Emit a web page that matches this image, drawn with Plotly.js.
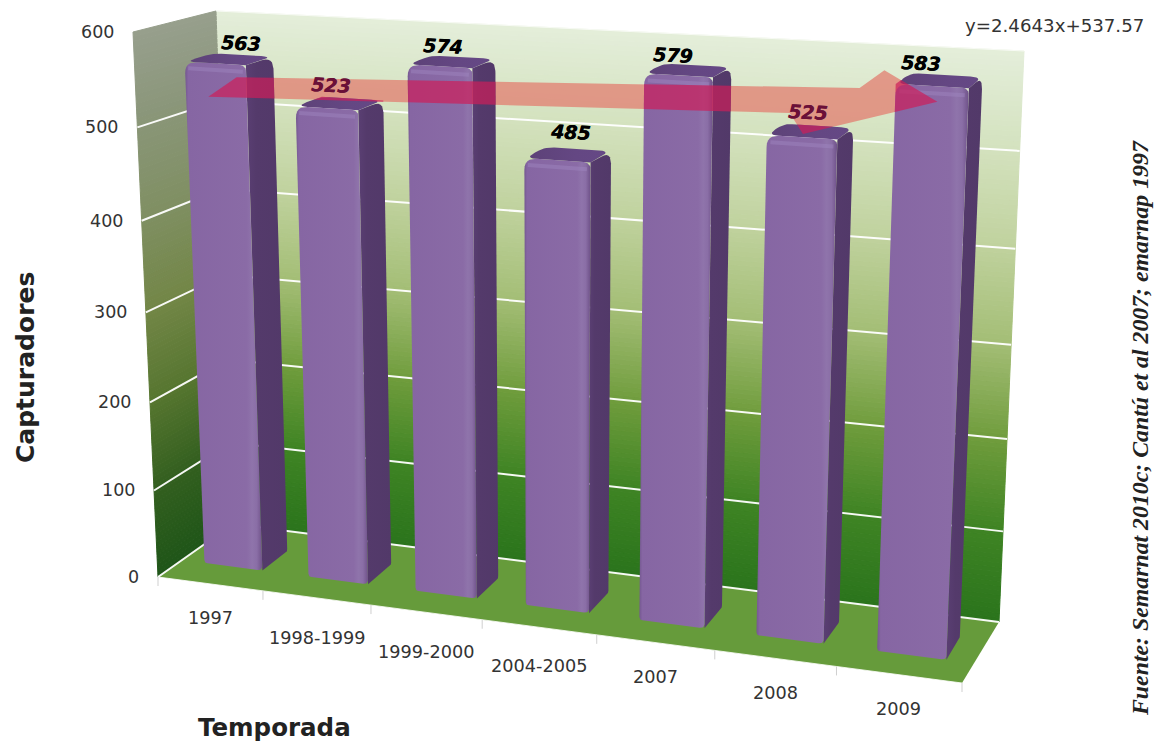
<!DOCTYPE html>
<html><head><meta charset="utf-8">
<script src="https://cdn.plot.ly/plotly-3.0.1.min.js"></script>
<style>html,body{margin:0;padding:0;background:#fff}#chart{width:1158px;height:744px}</style>
</head><body><div id="chart"></div>
<script>
// ---- data ----
const categories = ['1997','1998-1999','1999-2000','2004-2005','2007','2008','2009'];
const capturadores = [563,523,574,485,579,525,583];
const yTicks = [0,100,200,300,400,500,600];
const trendLabel = 'y=2.4643x+537.57';
// trend arrow outline: slot position along the category axis, value on the value axis
const arrowSlot  = [0.29,0.56,5.88,6.07,6.49,5.44,5.33];
const arrowValue = [521,544,571,590,562,522,542];
// small label nudges in pixels
const valueLabelDx = [1,-15,-10,6,-8,10,-1];
const valueLabelDy = [0,-2,1,-5,2,-2,0];
const categoryLabelDy = [0,6,6,5,0,1,0];

// ---- perspective box: pixel corners of the chart's 3D box ----
const VMAX = 600, SLOTS = categories.length;
const box = {fb:[[158,577],[962,683]], ft:[[133,32],[987,82]], bb:[[233,524],[999,622]], bt:[[216,11],[1024,51]]};
const warp = (t,c) => t/(1+c*(1-t));
const mix = (a,b,t) => [a[0]+(b[0]-a[0])*t, a[1]+(b[1]-a[1])*t];
function P(slot,value,depth){
  const u = warp(slot/SLOTS,0.11), v = warp(value/VMAX,0.06);
  const bottom = mix(mix(box.fb[0],box.fb[1],u), mix(box.bb[0],box.bb[1],u), depth);
  const top    = mix(mix(box.ft[0],box.ft[1],u), mix(box.bt[0],box.bt[1],u), depth);
  return mix(bottom,top,v);
}
// ---- helpers ----
const traces = [];
function hex(c){return [1,3,5].map(i=>parseInt(c.substr(i,2),16));}
function ramp(stops,t){
  for(let i=1;i<stops.length;i++){ if(t<=stops[i][0]){
    const f=(t-stops[i-1][0])/(stops[i][0]-stops[i-1][0]),a=hex(stops[i-1][1]),b=hex(stops[i][1]);
    return 'rgb('+a.map((x,k)=>Math.round(x+(b[k]-x)*f)).join(',')+')';}}
  return stops[stops.length-1][1];
}
function poly(pts,style){
  const closed = pts.concat([pts[0]]);
  const t = {type:'scatter',mode:'lines',x:closed.map(p=>p[0]),y:closed.map(p=>p[1]),fill:'toself',hoverinfo:'skip',showlegend:false,
    line:{width:style.lw||0,color:style.lc||style.color||'rgba(0,0,0,0)'}};
  if(style.gradient) t.fillgradient={type:style.dir||'horizontal',colorscale:style.gradient};
  else t.fillcolor=style.color;
  traces.push(t);
}
function line(pts,color,width){
  traces.push({type:'scatter',mode:'lines',x:pts.map(p=>p[0]),y:pts.map(p=>p[1]),hoverinfo:'skip',showlegend:false,line:{color:color,width:width}});
}
function rounded(pts,radii){
  const out=[];
  pts.forEach((p,i)=>{
    const r=radii[i], a=pts[(i+pts.length-1)%pts.length], b=pts[(i+1)%pts.length];
    if(!r){out.push(p);return;}
    const da=Math.hypot(a[0]-p[0],a[1]-p[1]), db=Math.hypot(b[0]-p[0],b[1]-p[1]);
    const s=mix(p,a,Math.min(r/da,.5)), e=mix(p,b,Math.min(r/db,.5));
    for(let k=0;k<=6;k++){const t=k/6; out.push(mix(mix(s,p,t),mix(p,e,t),t));}
  });
  return out;
}
function clip(subject,hull){
  let area=0; hull.forEach((p,i)=>{const q=hull[(i+1)%hull.length];area+=p[0]*q[1]-q[0]*p[1];});
  const sgn=area>0?1:-1; let out=subject;
  hull.forEach((a,i)=>{
    const b=hull[(i+1)%hull.length], inp=out; out=[];
    const side=p=>sgn*((b[0]-a[0])*(p[1]-a[1])-(b[1]-a[1])*(p[0]-a[0]));
    inp.forEach((p,j)=>{
      const q=inp[(j+1)%inp.length], sp=side(p), sq=side(q);
      if(sp>=0) out.push(p);
      if((sp>=0)!==(sq>=0)) out.push(mix(p,q,sp/(sp-sq)));
    });
  });
  return out;
}
// ---- walls ----
const backRamp=[[0,'#2b741c'],[.17,'#3f8424'],[.33,'#6f9c3c'],[.5,'#a3bd75'],[.67,'#c0d29e'],[.85,'#d5e3c1'],[1,'#e4eeda']];
const leftRamp=[[0,'#1f5518'],[.17,'#335f1f'],[.33,'#55752f'],[.5,'#728646'],[.67,'#7f8f62'],[.85,'#8a9679'],[1,'#979f8d']];
const N=120;
for(let k=0;k<N;k++){
  const a=VMAX*k/N,b=VMAX*(k+1)/N,t=(k+.5)/N;
  const c1=ramp(backRamp,t),c2=ramp(leftRamp,t);
  poly([P(0,a,1),P(SLOTS,a,1),P(SLOTS,b,1),P(0,b,1)],{color:c1,lw:1,lc:c1});
  poly([P(0,a,0),P(0,a,1),P(0,b,1),P(0,b,0)],{color:c2,lw:1,lc:c2});
}
poly([P(0,0,0),P(SLOTS,0,0),P(SLOTS,0,1),P(0,0,1)],{color:'#669b3b'});
yTicks.slice(0,-1).forEach(v=>{
  line([P(0,v,0),P(0,v,1),P(SLOTS,v,1)],'rgba(255,255,255,.95)',2);
});
line([P(0,VMAX,1),P(SLOTS,VMAX,1)],'rgba(255,255,255,.7)',1);
line([P(0,0,0),P(SLOTS,0,0)],'rgba(255,255,255,.8)',1);
// category ticks
for(let i=0;i<=SLOTS;i++){const p=P(i,0,0); line([p,[p[0],p[1]+9]],'#cfcfcf',1);}
// ---- trend arrow, wall layer ----
const arrow = arrowSlot.map((s,i)=>P(s,arrowValue[i],.5));
poly(arrow,{color:'rgba(225,130,115,.78)'});
// ---- bars ----
const Z0=.32,Z1=.67,L=.22,R=.78;
const hulls=[];
capturadores.forEach((val,i)=>{
  const sl=i+L,sr=i+R;
  const fbl=P(sl,0,Z0),fbr=P(sr,0,Z0),ftr=P(sr,val,Z0),ftl=P(sl,val,Z0),
        bbr=P(sr,0,Z1),btr=P(sr,val,Z1),btl=P(sl,val,Z1);
  hulls.push([fbl,fbr,bbr,btr,btl,ftl]);
  poly(rounded([ftl,ftr,btr,btl],[12,0,12,8]),{gradient:[[0,'#5d4278'],[.6,'#644783'],[1,'#654885']]});
  poly(rounded([fbr,bbr,btr,ftr],[0,3,12,0]),{gradient:[[0,'#5a3f73'],[.25,'#543a6b'],[1,'#523969']]});
  poly(rounded([fbl,fbr,ftr,ftl],[3,5,7,12]),{gradient:[[0,'#745790'],[.04,'#8666a3'],[.8,'#8a6ba6'],[.87,'#8f74ab'],[.93,'#8a6ea6'],[1,'#6f5289']]});
  line([P(sl+.03,val-7,Z0),P(sr-.03,val-7,Z0)],'rgba(160,136,192,.45)',4);
});
// ---- trend arrow, over the bars ----
hulls.forEach(h=>{
  const piece=clip(arrow,h);
  if(piece.length>2) poly(piece,{color:'rgba(205,30,90,.7)'});
});
// ---- text ----
const ann=[];
function text(x,y,t,size,opts){
  ann.push(Object.assign({x:x,y:y,xref:'x',yref:'y',text:t,showarrow:false,xanchor:'center',yanchor:'middle',
    font:{family:'"DejaVu Sans"',size:size,color:'#333'}},opts||{}));
}
yTicks.forEach(v=>{const p=P(0,v,0); text(p[0]-17,p[1],String(v),17.5,{xanchor:'right'});});
categories.forEach((c,i)=>{const p=P(i+.5,0,0); text(p[0],p[1]+34+categoryLabelDy[i],c,17.7);});
capturadores.forEach((v,i)=>{
  const p=P(i+.5,v,Z1);
  const c=(i===1||i===5)?'#6a1038':'#000';
  text(p[0]-3-3.5*i+valueLabelDx[i],p[1]-12+valueLabelDy[i],'<b><i>'+v+'</i></b>',19,{textangle:3,
    font:{family:'"DejaVu Sans"',size:19,color:c,shadow:'0.5px 0 0 '+c}});
});
text(1054,25,trendLabel,18.2);
text(274,727,'<b>Temporada</b>',24.5,{font:{family:'"DejaVu Sans"',size:24.5,color:'#222'}});
text(25,368,'<b>Capturadores</b>',25,{textangle:-90,font:{family:'"DejaVu Sans"',size:25,color:'#222'}});
text(1140,428,'<b><i>Fuente: Semarnat 2010c; Cantú et al 2007; emarnap 1997</i></b>',23.8,{textangle:-90,font:{family:'"Liberation Serif"',size:23.8,color:'#222'}});

Plotly.newPlot('chart',traces,{
  width:1158,height:744,margin:{l:0,r:0,t:0,b:0},paper_bgcolor:'#fff',plot_bgcolor:'#fff',showlegend:false,
  xaxis:{range:[0,1158],visible:false,fixedrange:true},
  yaxis:{range:[744,0],visible:false,fixedrange:true},
  annotations:ann
},{displayModeBar:false,staticPlot:true});
</script></body></html>
